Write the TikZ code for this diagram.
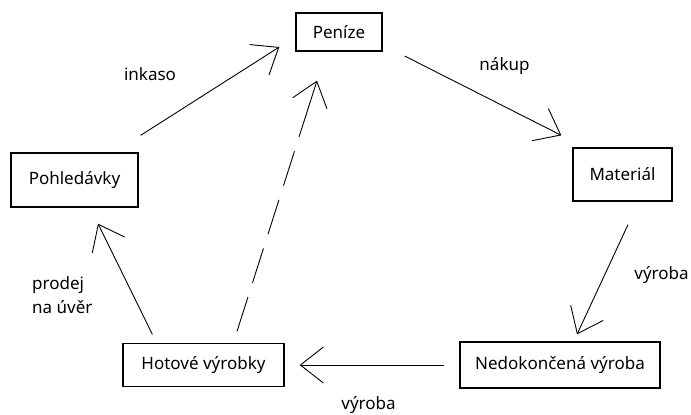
\documentclass[tikz,border=0pt]{standalone}
\usepackage{fontspec}
\setmainfont{Noto Sans}
\usetikzlibrary{positioning}
\usetikzlibrary{arrows.meta}

\begin{document}
\begin{tikzpicture}[
x = 1pt, y = -1pt,
box/.style = {shape = rectangle, draw = black, line width = 1.3pt, inner sep = 0pt, font = \fontsize{17}{24}\selectfont},
lbl/.style = {inner sep = 0pt, font = \fontsize{17}{24}\selectfont},
arr/.style = {line width = 0.9pt, -{Straight Barb[length = 23pt, width = 36pt]}},
]
\useasboundingbox (0,0) rectangle (691,415);
\node[box, minimum width = 86pt, minimum height = 38pt] (penize) at (339,32) {Peníze};
\node[box, minimum width = 99pt, minimum height = 53pt] (material) [on grid, below right = 142.5pt and 283.5pt of penize] {Materiál};
\node[box, minimum width = 200pt, minimum height = 46pt] (nedok) [on grid, below left = 190.5pt and 62.5pt of material] {Nedokončená výroba};
\node[box, minimum width = 161pt, minimum height = 43pt] (hotove) [on grid, left = 356.5pt of nedok] {Hotové výrobky};
\node[box, minimum width = 127pt, minimum height = 54pt] (pohl) [on grid, above left = 185pt and 129pt of hotove] {Pohledávky};

\node[lbl, anchor = base] (inkaso) at (150,80) {inkaso};
\node[lbl, anchor = base] (nakup) at (504.5,70) {nákup};
\node[lbl, anchor = base] (vyroba1) at (661.5,279) {výroba};
\node[lbl, anchor = base] (vyroba2) at (368.5,409.5) {výroba};
\node[lbl, anchor = base west, align = left] (prodej) at (32,313) {prodej\\na úvěr};

\path[arr] ([xshift = 2pt, yshift = 17pt]pohl.north east) edge ([xshift = -16pt, yshift = -15pt]penize.west);
\path[arr] ([xshift = 22pt, yshift = -24pt]penize.east) edge ([xshift = -11pt, yshift = 12pt]material.north west);
\path[arr] ([xshift = 5.5pt, yshift = -23pt]material.south) edge ([xshift = 17pt, yshift = 7pt]nedok.north);
\path[arr] ([xshift = -15pt]nedok.west) edge ([xshift = 15pt]hotove.east);
\path[arr] ([xshift = 30pt, yshift = 8.5pt]hotove.north west) edge ([xshift = 23.5pt, yshift = -16pt]pohl.south);
\path[arr, dash pattern = on 36pt off 15pt on 36pt off 15pt on 36pt off 15pt on 36pt off 15pt on 90pt off 1pt] ([xshift = 33.5pt, yshift = 11.5pt]hotove.north) edge ([xshift = -22pt, yshift = -29pt]penize.south);
\end{tikzpicture}
\end{document}
